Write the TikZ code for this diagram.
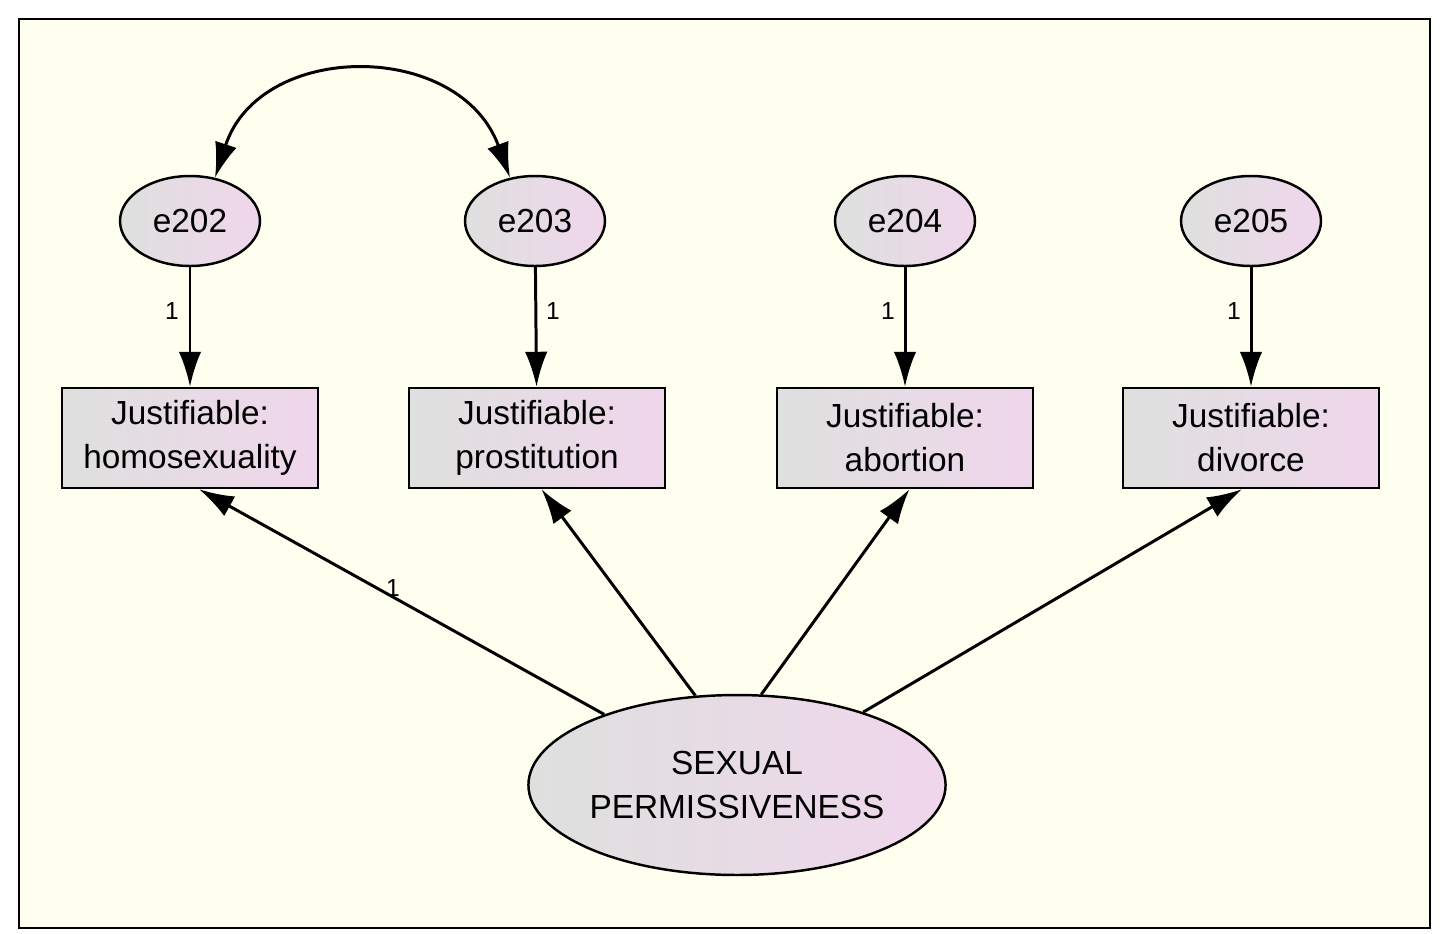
\documentclass[tikz,border=0pt]{standalone}
\usepackage{fontspec}
\setmainfont{Liberation Sans}
\usetikzlibrary{arrows.meta,shapes.geometric}
\definecolor{cream}{RGB}{255,255,240}
\definecolor{leftg}{RGB}{222,224,222}
\definecolor{rightp}{RGB}{240,214,236}
\tikzset{
  err/.style={ellipse,draw,line width=1.4pt,left color=leftg,right color=rightp,
    minimum width=2.8cm,minimum height=1.8cm,inner sep=0pt,font=\fontsize{19}{22}\selectfont},
  obs/.style={rectangle,draw,line width=1.4pt,left color=leftg,right color=rightp,
    minimum width=5.12cm,minimum height=2cm,align=center,inner sep=0pt,
    font=\fontsize{19}{25}\selectfont},
  lat/.style={ellipse,draw,line width=1.4pt,left color=leftg,right color=rightp,
    minimum width=7.9cm,minimum height=3.6cm,align=center,inner sep=0pt,
    font=\fontsize{19}{25}\selectfont},
  arr/.style={line width=1.7pt,-{Latex[length=0.7cm,width=0.45cm]}},
  darr/.style={line width=1.7pt,{Latex[length=0.7cm,width=0.45cm]}-{Latex[length=0.7cm,width=0.45cm]}},
  wt/.style={font=\fontsize{14}{16}\selectfont}
}
\begin{document}
\begin{tikzpicture}[x=0.02cm,y=-0.02cm]
  \useasboundingbox (0,0) rectangle (1449,933);
  \draw[line width=1.4pt,fill=cream] (19,19) rectangle (1430,928);
  % errors
  \node[err] (e202) at (190,221) {e202};
  \node[err] (e203) at (535,221) {e203};
  \node[err] (e204) at (905,221) {e204};
  \node[err] (e205) at (1251,221) {e205};
  % observed
  \node[obs] (homo) at (190,438) {Justifiable:\\homosexuality};
  \node[obs] (pros) at (537,438) {Justifiable:\\prostitution};
  \node[obs] (abor) at (905,438) {Justifiable:\\abortion};
  \node[obs] (divo) at (1251,438) {Justifiable:\\divorce};
  % latent
  \node[lat] (sexp) at (737,785) {SEXUAL\\PERMISSIVENESS};
  \draw[darr] (e202.60) .. controls (260,40) and (460,40) .. (e203.120);
  \foreach \e/\o/\x in {e202/homo/172,e203/pros/553,e204/abor/888,e205/divo/1234} {
    \draw[arr] (\e) -- (\o);
    \node[wt] at (\x,311) {1};
  }
  \draw[arr] (sexp.152) -- (homo.-80);
  \draw[arr] (sexp.115) -- (pros.-85);
  \draw[arr] (sexp.75) -- (abor.-85);
  \draw[arr] (sexp.30) -- (divo.-100);
  \node[wt] (lbl) at (393,588) {1};
\end{tikzpicture}
\end{document}
